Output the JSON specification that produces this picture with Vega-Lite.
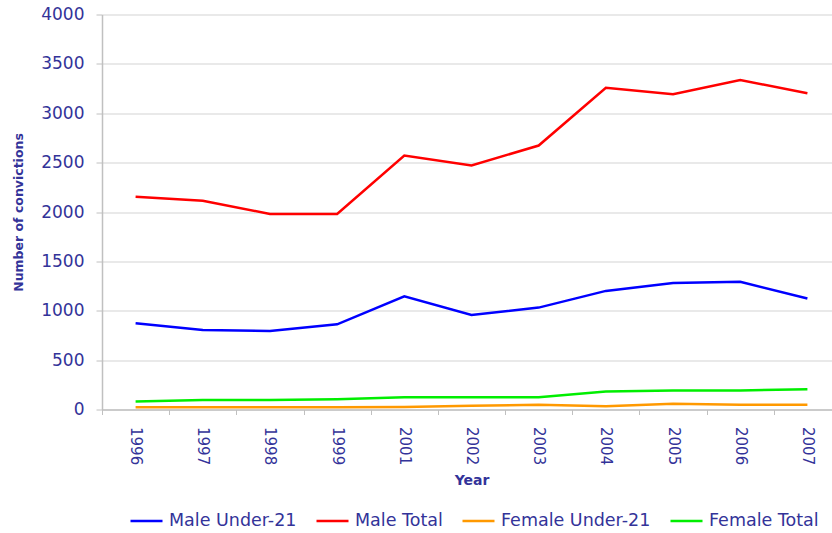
{
  "$schema": "https://vega.github.io/schema/vega-lite/v6.json",
  "width": 730,
  "height": 395,
  "autosize": {"type": "none"},
  "padding": {"left": 102, "top": 14.5, "right": 0, "bottom": 123.5},
  "background": "white",
  "config": {"view": {"stroke": null}, "font": "DejaVu Sans"},
  "data": {
    "values": [
      {"year": "1996", "series": "Male Under-21", "convictions": 873},
      {"year": "1997", "series": "Male Under-21", "convictions": 805},
      {"year": "1998", "series": "Male Under-21", "convictions": 795},
      {"year": "1999", "series": "Male Under-21", "convictions": 863},
      {"year": "2001", "series": "Male Under-21", "convictions": 1147},
      {"year": "2002", "series": "Male Under-21", "convictions": 957},
      {"year": "2003", "series": "Male Under-21", "convictions": 1032},
      {"year": "2004", "series": "Male Under-21", "convictions": 1201},
      {"year": "2005", "series": "Male Under-21", "convictions": 1282},
      {"year": "2006", "series": "Male Under-21", "convictions": 1293},
      {"year": "2007", "series": "Male Under-21", "convictions": 1124},
      {"year": "1996", "series": "Male Total", "convictions": 2155},
      {"year": "1997", "series": "Male Total", "convictions": 2114},
      {"year": "1998", "series": "Male Total", "convictions": 1980},
      {"year": "1999", "series": "Male Total", "convictions": 1980},
      {"year": "2001", "series": "Male Total", "convictions": 2572},
      {"year": "2002", "series": "Male Total", "convictions": 2471},
      {"year": "2003", "series": "Male Total", "convictions": 2673},
      {"year": "2004", "series": "Male Total", "convictions": 3257},
      {"year": "2005", "series": "Male Total", "convictions": 3192},
      {"year": "2006", "series": "Male Total", "convictions": 3337},
      {"year": "2007", "series": "Male Total", "convictions": 3202},
      {"year": "1996", "series": "Female Under-21", "convictions": 23},
      {"year": "1997", "series": "Female Under-21", "convictions": 23},
      {"year": "1998", "series": "Female Under-21", "convictions": 23},
      {"year": "1999", "series": "Female Under-21", "convictions": 23},
      {"year": "2001", "series": "Female Under-21", "convictions": 25},
      {"year": "2002", "series": "Female Under-21", "convictions": 37},
      {"year": "2003", "series": "Female Under-21", "convictions": 47},
      {"year": "2004", "series": "Female Under-21", "convictions": 34},
      {"year": "2005", "series": "Female Under-21", "convictions": 58},
      {"year": "2006", "series": "Female Under-21", "convictions": 47},
      {"year": "2007", "series": "Female Under-21", "convictions": 47},
      {"year": "1996", "series": "Female Total", "convictions": 81},
      {"year": "1997", "series": "Female Total", "convictions": 95},
      {"year": "1998", "series": "Female Total", "convictions": 95},
      {"year": "1999", "series": "Female Total", "convictions": 105},
      {"year": "2001", "series": "Female Total", "convictions": 125},
      {"year": "2002", "series": "Female Total", "convictions": 125},
      {"year": "2003", "series": "Female Total", "convictions": 125},
      {"year": "2004", "series": "Female Total", "convictions": 183},
      {"year": "2005", "series": "Female Total", "convictions": 193},
      {"year": "2006", "series": "Female Total", "convictions": 193},
      {"year": "2007", "series": "Female Total", "convictions": 206}
    ]
  },
  "mark": {"type": "line", "strokeWidth": 2.5},
  "encoding": {
    "x": {
      "field": "year",
      "type": "nominal",
      "bandPosition": 0.5,
      "scale": {"type": "band", "paddingInner": 0, "paddingOuter": 0, "range": [0, 739]},
      "axis": {
        "title": "Year",
        "titleFontSize": 14,
        "titleFontWeight": "bold",
        "titleColor": "#333399",
        "titlePadding": 9,
        "labelAngle": 90,
        "labelFontSize": 15,
        "labelColor": "#333399",
        "labelPadding": 12,
        "tickBand": "extent",
        "tickSize": 5,
        "tickColor": "#c0c0c0",
        "domainColor": "#c0c0c0",
        "domainWidth": 1.5,
        "grid": false
      }
    },
    "y": {
      "field": "convictions",
      "type": "quantitative",
      "scale": {"domain": [0, 4000], "nice": false},
      "axis": {
        "title": "Number of convictions",
        "titleFontSize": 12.5,
        "titleFontWeight": "bold",
        "titleColor": "#333399",
        "titlePadding": 15,
        "values": [0, 500, 1000, 1500, 2000, 2500, 3000, 3500, 4000],
        "format": "d",
        "labelFontSize": 17,
        "labelColor": "#333399",
        "labelPadding": 12,
        "tickSize": 6,
        "tickColor": "#c0c0c0",
        "domainColor": "#c0c0c0",
        "domainWidth": 1.5,
        "gridColor": "#d3d3d3",
        "gridWidth": 1.2
      }
    },
    "color": {
      "field": "series",
      "type": "nominal",
      "scale": {
        "domain": ["Male Under-21", "Male Total", "Female Under-21", "Female Total"],
        "range": ["#0000ff", "#ff0000", "#ff9900", "#00ee00"]
      },
      "legend": {
        "orient": "none",
        "legendX": 27,
        "legendY": 489,
        "direction": "horizontal",
        "title": null,
        "symbolType": "stroke",
        "symbolSize": 1024,
        "symbolStrokeWidth": 2.5,
        "labelFontSize": 17.5,
        "labelColor": "#333399",
        "labelOffset": 5,
        "columnPadding": 14,
        "labelLimit": 300
      }
    }
  }
}
